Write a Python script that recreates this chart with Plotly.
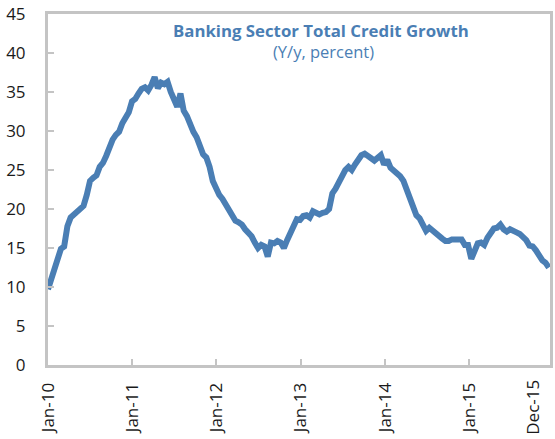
import pandas as pd
import plotly.graph_objects as go

# Fortnightly observations of total banking-sector credit growth, y/y %
start_date = "2010-01-01"
step = "14D"
credit_growth = [
    9.7, 11.0, 11.9, 13.0, 14.9, 15.2, 17.8, 18.9, 19.3, 19.7,
    20.0, 20.4, 21.8, 23.6, 24.0, 24.3, 25.4, 25.9, 26.8, 27.9,
    28.9, 29.5, 29.9, 31.0, 31.8, 32.4, 33.8, 34.1, 34.8, 35.4,
    35.6, 35.2, 35.9, 36.9, 35.5, 36.2, 36.0, 36.3, 35.0, 34.2,
    33.1, 34.8, 32.6, 31.9, 30.7, 29.9, 29.2, 28.0, 27.0, 26.6,
    25.4, 23.6, 22.6, 21.8, 21.3, 20.6, 19.9, 19.0, 18.5, 18.3,
    18.0, 17.4, 17.0, 16.5, 15.7, 15.0, 15.4, 15.2, 13.9, 15.7,
    15.6, 15.9, 15.7, 15.0, 16.0, 17.0, 18.0, 18.7, 18.6, 19.1,
    19.2, 18.9, 19.7, 19.4, 19.3, 19.5, 19.6, 20.0, 22.0, 22.6,
    23.4, 24.4, 25.0, 25.4, 25.0, 25.7, 26.4, 26.9, 27.1, 26.9,
    26.5, 26.2, 26.6, 26.9, 25.7, 26.3, 25.3, 25.0, 24.6, 24.2,
    23.6, 22.6, 21.3, 20.2, 19.2, 18.8, 17.8, 17.2, 17.6, 17.2,
    16.8, 16.4, 16.2, 15.9, 15.9, 16.1, 16.1, 16.0, 16.1, 15.4,
    15.4, 13.6, 14.9, 15.6, 15.7, 15.4, 16.3, 17.1, 17.5, 17.6,
    18.0, 17.4, 17.1, 17.4, 17.1, 17.0, 16.8, 16.5, 16.0, 15.3,
    15.2, 14.7, 13.9, 13.4, 13.1, 12.5,
]
dates = pd.date_range(start_date, periods=len(credit_growth), freq=step)

tick_dates = ["2010-01-01", "2011-01-01", "2012-01-01", "2013-01-01",
              "2014-01-01", "2015-01-01"]
tick_labels = ["Jan-10", "Jan-11", "Jan-12", "Jan-13", "Jan-14", "Jan-15"]
last_label = "Dec-15"
y_ticks = [0, 5, 10, 15, 20, 25, 30, 35, 40, 45]

title_main = "Banking Sector Total Credit Growth"
title_sub = "(Y/y, percent)"

LINE_BLUE = "#4a7eb4"
AXIS_GREY = "#c4c4c4"
FONT = "Open Sans"

fig = go.Figure()
fig.add_trace(go.Scatter(
    x=dates, y=credit_growth, mode="lines",
    line=dict(color=LINE_BLUE, width=6),
    hoverinfo="skip", showlegend=False,
))

fig.update_layout(
    width=555, height=439,
    margin=dict(l=48, r=2, t=13, b=74),
    paper_bgcolor="white", plot_bgcolor="white",
    font=dict(family=FONT, size=17, color="#1a1a1a"),
    xaxis=dict(
        type="date",
        range=["2010-01-01", "2015-12-16"],
        tickvals=tick_dates, ticktext=tick_labels,
        tickangle=-90,
        ticks="inside", ticklen=6, tickwidth=2, tickcolor=AXIS_GREY,
        ticklabelstandoff=8,
        showline=True, linecolor=AXIS_GREY, linewidth=3, mirror=True,
        showgrid=False, zeroline=False,
        tickfont=dict(family=FONT, size=17, color="#1a1a1a"),
    ),
    yaxis=dict(
        range=[0, 45],
        tickvals=y_ticks,
        ticks="inside", ticklen=6, tickwidth=2, tickcolor=AXIS_GREY,
        ticklabelstandoff=16,
        showline=True, linecolor=AXIS_GREY, linewidth=3, mirror=True,
        showgrid=False, zeroline=False,
        tickfont=dict(family=FONT, size=17, color="#1a1a1a"),
    ),
    annotations=[
        dict(text="<b>" + title_main + "</b>", xref="paper", yref="paper",
             x=0.5436, y=0.952, xanchor="center", yanchor="middle",
             showarrow=False,
             font=dict(family=FONT, size=16.8, color=LINE_BLUE)),
        dict(text=title_sub, xref="paper", yref="paper",
             x=0.549, y=0.893, xanchor="center", yanchor="middle",
             showarrow=False,
             font=dict(family=FONT, size=16.5, color=LINE_BLUE)),
        dict(text=last_label, xref="paper", yref="paper",
             x=0.966, y=-0.035, xanchor="center", yanchor="top",
             textangle=-90, showarrow=False,
             font=dict(family=FONT, size=17, color="#1a1a1a")),
    ],
)

fig.write_html("out.html")
